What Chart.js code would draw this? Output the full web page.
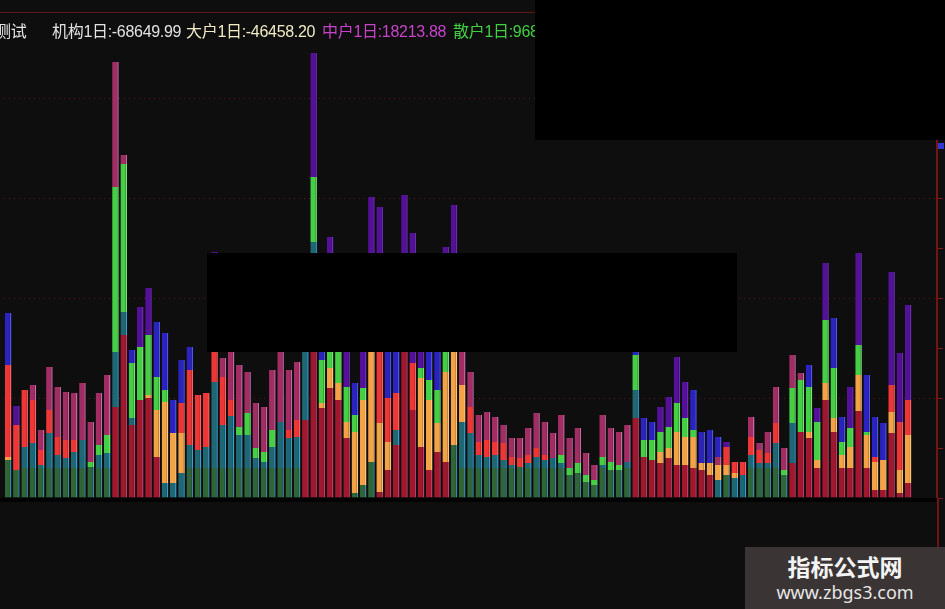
<!DOCTYPE html>
<html><head><meta charset="utf-8">
<script src="https://cdn.jsdelivr.net/npm/chart.js@4.4.1/dist/chart.umd.min.js"></script>
<style>
html,body{margin:0;padding:0;background:#0e0e0e;width:945px;height:609px;overflow:hidden;}
body{position:relative;font-family:"Liberation Sans","Noto Sans CJK SC",sans-serif;}
.abs{position:absolute;}
#cv{position:absolute;left:0;top:0;}
.t{position:absolute;top:23px;font-size:16px;line-height:18px;white-space:nowrap;letter-spacing:-0.3px;}
</style></head><body>
<canvas id="cv" width="945" height="609"></canvas>
<div class="abs" style="left:0;top:12px;width:945px;height:1px;background:#5e1616;"></div>
<div class="abs" style="left:0;top:498px;width:938px;height:4px;background:#030303;"></div>
<div class="abs" style="left:937px;top:498px;width:2px;height:111px;background:#6e1414;"></div>
<div class="t" style="left:-5px;color:#e6e6e6;">测试</div>
<div class="t" style="left:52px;color:#e2e2e2;">机构1日:-68649.99</div>
<div class="t" style="left:186px;color:#f1ebc4;">大户1日:-46458.20</div>
<div class="t" style="left:322px;color:#c842cc;">中户1日:18213.88</div>
<div class="t" style="left:453px;color:#42cf42;">散户1日:968</div>
<div class="abs" style="left:535px;top:0;width:410px;height:140px;background:#000;"></div>
<div class="abs" style="left:207px;top:253px;width:530px;height:99px;background:#000;"></div>
<div class="abs" style="left:938px;top:143px;width:6px;height:6px;background:#3535d8;"></div>
<div class="abs" style="left:745px;top:547px;width:200px;height:62px;background:#3b3434;"></div>
<div class="abs" style="left:745px;top:552px;width:200px;text-align:center;color:#f4f4f4;font:bold 23px 'Noto Sans CJK SC',sans-serif;line-height:28px;">指标公式网</div>
<div class="abs" style="left:745px;top:581px;width:200px;text-align:center;color:#e6e6e6;font:18px 'Noto Sans','DejaVu Sans',sans-serif;line-height:22px;">www.zbgs3.com</div>
<script>
const N = null;
// 113 day slots (last 3 empty)
const categories = Array.from({length:113}, (_, i) => i + 1);
// floating segments [bottom, top] per day, one array per colour band
const dkGreen = [
 [0,38],[0,28],[0,30],[0,30],[0,30],[0,30],[0,30],[0,30],[0,30],[0,30],
 [0,31],[0,30],[0,30],N,N,N,N,N,N,N,
 N,N,[0,30],[0,30],[0,30],[0,30],[0,30],[0,30],[0,30],[0,30],
 [0,30],[0,30],[0,30],[0,30],[0,30],[0,30],N,N,N,N,
 N,N,[0,5],[0,13],[0,36],N,N,N,N,N,
 N,N,N,N,[0,53],[0,30],[0,30],[0,30],[0,30],[0,30],
 [0,30],[0,30],[0,31],[0,30],[0,30],[0,30],[0,30],[0,30],[0,23],[0,25],
 [0,16],[0,13],[0,30],[0,28],[0,28],[0,30],N,N,N,N,
 N,N,N,N,N,N,N,[0,23],N,N,
 [0,30],[0,30],[0,30],[0,30],[0,23],N,N,N,N,N,
 N,N,N,N,N,N,N,N,N,N];
const teal = [
 N,N,[30,51],[30,55],[30,33],[30,65],[30,43],[30,40],[30,46],[30,58],
 N,[30,43],[30,45],[91,146],[163,186],[73,80],N,N,N,[0,15],
 [0,15],[0,25],[30,53],[30,48],[30,51],[30,116],[30,73],[30,82],[30,63],[30,63],
 [30,40],[30,36],[30,51],[30,76],[30,60],[30,61],[78,146],[245,256],N,N,
 N,N,N,N,N,N,N,[53,68],N,N,
 N,N,N,N,N,[30,76],[30,65],[30,43],[30,41],[30,43],
 [30,38],[30,33],N,[30,35],[30,41],[30,38],[30,40],[30,35],N,N,
 N,N,[30,33],N,N,[30,36],[80,108],N,N,N,
 N,N,N,N,N,N,[0,18],N,[0,20],[0,23],
 [30,43],[30,35],[30,35],[30,55],N,[35,75],N,N,N,N,
 N,N,N,N,N,N,N,N,N,N];
const crimson = [
 N,N,N,N,N,N,N,N,N,N,
 N,N,N,[0,91],[0,163],[0,73],[0,98],[0,100],[0,41],N,
 N,N,N,N,N,N,N,N,N,N,
 N,N,N,N,N,N,[0,78],[0,245],[0,90],[0,110],
 [0,98],[0,60],N,N,N,[0,6],[0,28],[0,53],[0,146],[0,88],
 [0,51],[0,28],[0,46],[0,36],N,N,N,N,N,N,
 N,N,N,N,N,N,N,N,N,N,
 N,N,N,N,N,N,[0,80],[0,41],[0,38],[0,35],
 [0,40],[0,33],[0,33],[0,30],[0,28],[0,23],N,N,N,N,
 N,N,N,N,N,[0,35],[0,66],[0,60],[0,30],[0,98],
 [0,66],[0,30],[0,30],[0,87],[0,30],[0,8],[0,8],[0,65],[0,5],[0,15]];
const red = [
 [41,133],[28,73],[51,108],[55,98],[33,48],[65,88],[43,61],[40,58],[46,58],N,
 N,N,N,N,N,N,N,N,N,N,
 N,[65,95],[53,128],[48,103],[51,105],[116,146],[73,121],[82,98],N,N,
 N,N,N,N,[60,68],[61,78],N,N,N,N,
 N,N,N,N,N,[75,160],[56,100],[68,105],N,[88,135],
 N,N,N,N,N,N,[65,91],[43,56],[41,58],[43,56],
 [38,55],[33,41],[31,40],[35,43],[41,50],[38,43],N,N,N,N,
 N,N,N,N,N,N,N,N,N,N,
 N,N,N,N,N,N,N,[33,51],[25,36],[23,36],
 [43,61],[35,48],[35,45],[55,75],N,N,N,N,N,N,
 N,N,N,N,N,[36,41],N,[86,113],[28,76],[63,98]];
const pink = [
 N,N,N,[98,113],[48,68],[88,131],[61,111],[58,106],[58,105],[58,115],
 [36,76],[53,105],[63,123],[311,436],[334,343],N,N,N,N,N,
 N,N,N,N,N,N,[121,140],[98,146],[71,133],[85,126],
 [50,95],[46,91],[68,128],[76,146],[68,128],[78,136],N,N,N,N,
 N,N,N,N,N,N,N,N,N,N,
 N,N,N,N,N,[113,160],[91,126],[56,83],[58,86],[56,81],
 [55,73],[41,60],[40,60],[43,70],[50,85],[43,76],[40,65],[43,83],[30,60],[35,70],
 [23,45],[18,33],[41,83],[36,70],[33,66],[36,73],N,N,N,N,
 N,N,N,N,N,N,[33,41],N,N,N,
 [61,81],[48,55],[45,66],[75,111],[28,50],[110,143],[118,125],N,N,N,
 N,N,N,N,N,N,N,N,N,N];
const orange = [
 [38,41],N,N,N,N,N,N,N,N,N,
 N,N,N,N,N,N,N,[100,103],[41,88],[15,96],
 [15,65],[25,65],N,N,N,N,N,N,N,N,
 N,N,N,N,N,N,N,N,[90,95],[110,130],
 [98,115],[60,76],[5,66],[13,98],[36,160],[6,75],[28,56],N,N,N,
 [51,120],[28,98],[46,75],[36,126],[53,160],[76,113],N,N,N,N,
 N,N,N,N,N,N,N,N,N,N,
 N,N,N,N,N,N,N,N,N,[35,46],
 [40,50],[33,66],[33,61],[30,61],[28,35],[23,35],[18,33],[23,33],[20,25],N,
 N,N,N,N,N,N,N,[60,66],[30,38],[98,115],
 [66,80],[30,43],[30,51],[87,123],[30,63],[8,36],[8,38],[65,86],[5,28],[15,63]];
const green = [
 N,N,N,N,N,N,N,N,N,N,
 [31,36],[43,53],[45,63],[146,311],[186,334],[80,135],[98,151],[103,163],[88,121],[96,108],
 N,N,N,N,N,N,N,N,[63,71],[63,85],
 [40,50],[36,46],[51,68],N,N,N,N,[256,321],[95,138],[130,200],
 [115,146],[76,111],[66,83],[98,110],N,N,N,N,N,N,
 [120,130],[98,118],[75,108],[126,200],N,N,N,N,N,N,
 N,N,N,N,N,N,N,[35,43],[23,30],[25,35],
 [16,23],[13,18],[33,41],[28,36],[28,33],N,[108,143],[41,58],[38,58],[46,66],
 [50,71],[66,95],[61,80],[61,68],N,N,N,N,N,N,
 N,N,N,N,[23,28],[75,110],[66,118],[66,111],[38,76],[115,178],
 [80,130],[43,56],[51,70],[123,153],[63,66],N,N,N,N,N];
const blue = [
 [133,185],N,N,N,N,N,N,N,N,N,
 N,N,N,N,N,[135,148],N,N,[121,176],[108,165],
 [65,98],[95,138],[128,151],N,N,N,N,N,N,N,
 N,N,N,N,N,N,N,N,[138,150],N,
 N,N,[83,115],N,N,N,[100,146],[105,146],N,N,
 N,[118,146],[108,146],N,N,N,N,N,N,N,
 N,N,N,N,N,N,N,N,N,N,
 N,N,N,N,N,N,[143,146],[58,80],[58,76],N,
 N,N,N,[68,108],[35,66],[35,68],[41,61],N,N,N,
 N,N,N,N,N,N,N,[111,133],N,N,
 [130,180],[56,81],N,N,[66,123],[41,81],[38,75],N,N,N];
const purple = [
 N,[73,92],N,N,N,N,N,N,N,N,
 N,N,N,N,N,N,[151,191],[163,210],N,N,
 N,N,N,N,N,[146,246],N,N,N,N,
 N,N,N,N,N,N,N,[321,445],N,[200,261],
 N,[111,146],N,[110,146],[160,301],[160,291],N,N,[146,303],[135,265],
 [130,146],N,N,[200,251],[160,293],N,N,N,N,N,
 N,N,N,N,N,N,N,N,N,N,
 N,N,N,N,N,N,N,N,N,[66,91],
 [71,101],[95,141],[80,116],N,N,N,N,[51,56],N,N,
 N,N,N,N,N,N,N,N,[76,90],[178,235],
 N,N,[70,111],[153,245],N,N,N,[113,226],[76,145],[98,193]];

const bands = [
 ['dkGreen', dkGreen, '#2f6537', '#3d8aa6'],
 ['teal', teal, '#1f6873', '#3a9fd2'],
 ['crimson', crimson, '#a1172e', '#c23c68'],
 ['red', red, '#ee3636', '#ff6262'],
 ['pink', pink, '#a22d63', '#c46aa8'],
 ['orange', orange, '#f4a246', '#ffc57a'],
 ['green', green, '#44cf44', '#74e474'],
 ['blue', blue, '#2b22c0', '#4b5ae6'],
 ['purple', purple, '#55109a', '#6a2eb6']
];
const datasets = bands.map(([label, data, bg, bd]) => ({
  label, data, backgroundColor: bg, borderColor: bd,
  borderWidth: {left:0, top:0, bottom:0, right:1.5}, borderSkipped: false,
  grouped: false, barPercentage: 0.8, categoryPercentage: 1.0
}));

new Chart(document.getElementById('cv'), {
  type: 'bar',
  data: { labels: categories, datasets },
  options: {
    responsive: false, animation: false,
    layout: { padding: { left: 4, top: 13, right: 2, bottom: 111 } },
    plugins: { legend: { display: false }, tooltip: { enabled: false } },
    scales: {
      x: { type: 'category', display: false, offset: true, grid: { display: false } },
      y: {
        position: 'right', min: 0, max: 485,
        ticks: { display: false, stepSize: 50 },
        grid: {
          color: c => (c.tick && c.tick.value > 0 && c.tick.value < 485 && c.tick.value % 100 === 0) ? '#5e1818' : 'rgba(0,0,0,0)',
          tickColor: c => (c.tick && c.tick.value % 50 === 0) ? '#861a1a' : 'rgba(0,0,0,0)',
          tickLength: 6, lineWidth: 1, drawTicks: true
        },
        border: { display: true, color: '#741414', width: 2, dash: [1, 4] }
      }
    }
  }
});
</script>
</body></html>
